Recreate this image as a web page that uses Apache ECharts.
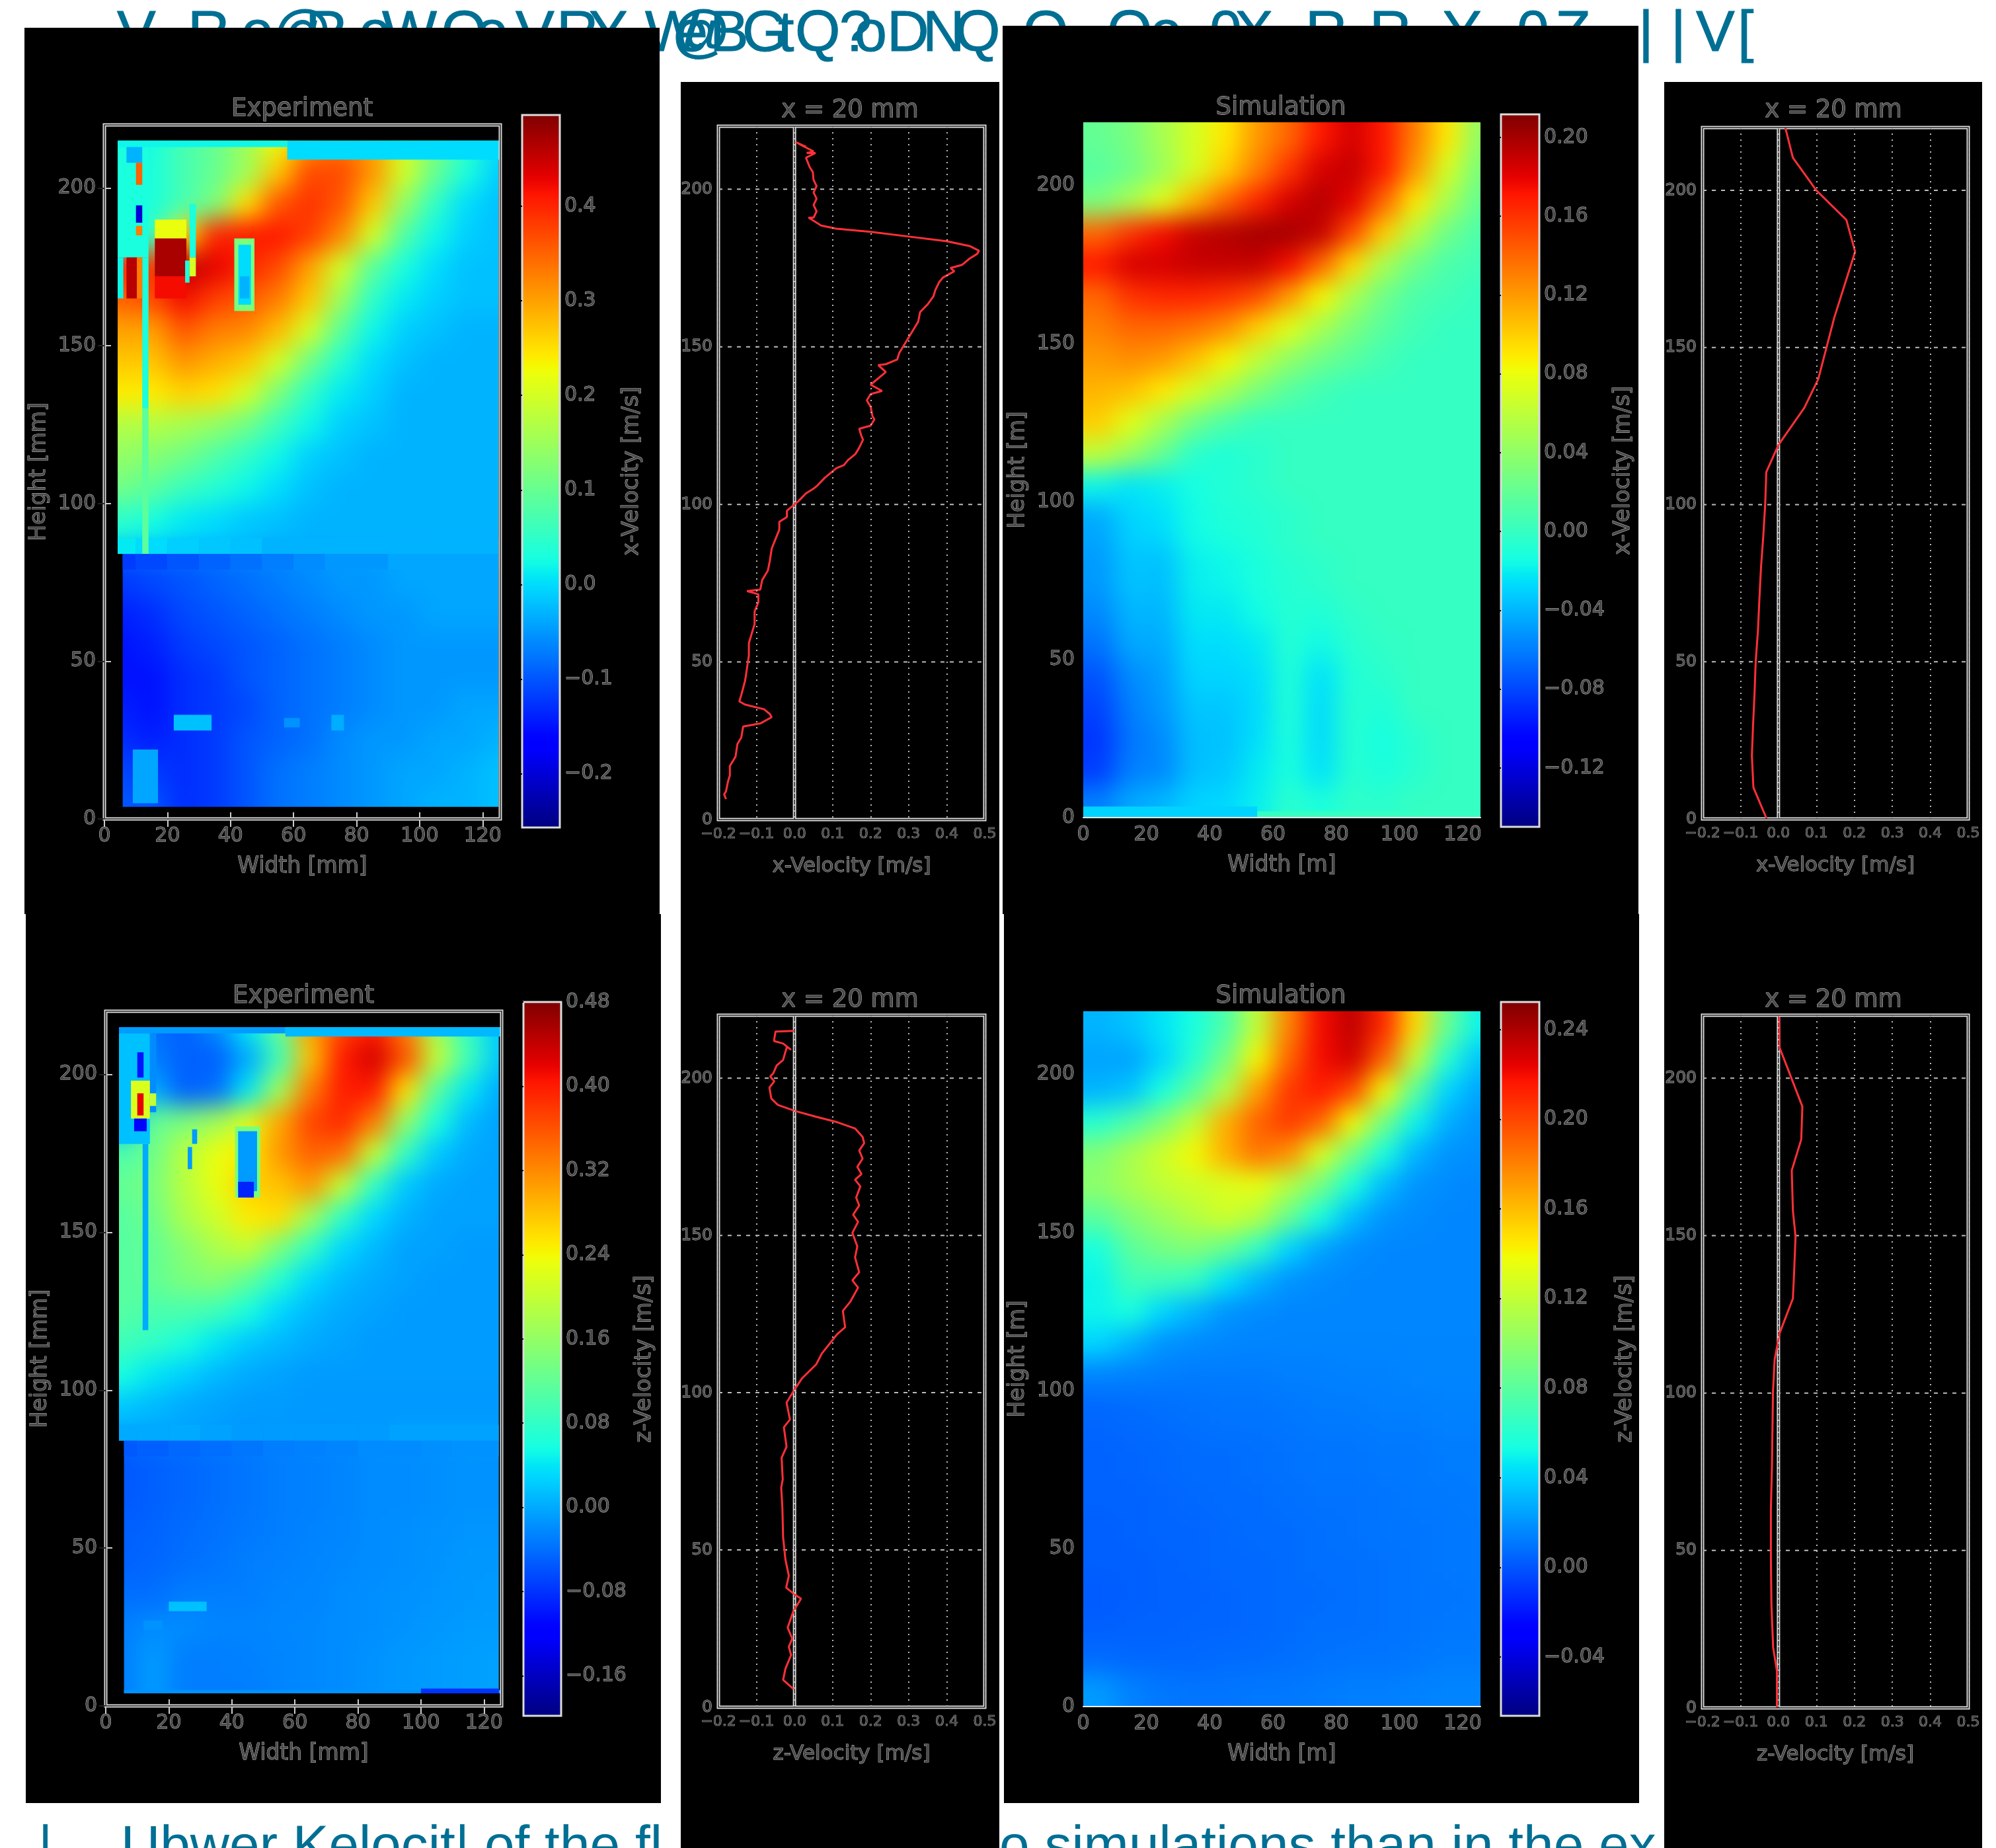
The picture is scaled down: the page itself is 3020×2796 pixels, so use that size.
<!DOCTYPE html>
<html><head><meta charset="utf-8">
<style>html,body{margin:0;padding:0;background:#fff}#c{width:3020px;height:2796px}
canvas[data-zr-dom-id="zr_1"]{filter:blur(18px)}</style>
<script src="https://cdn.jsdelivr.net/npm/echarts@6/dist/echarts.min.js"></script></head>
<body><div id="c"></div><script>
// ---------- cell layout shared by the four fields
const colCentres=[5,15,25,35,45,55,65,75,85,95,105,115,125];
const rowTops=[220,210,200,190,180,170,160,150,140,130,120,110,100,90,84,70,60,50,40,30,20,10];
const rowBottoms=[210,200,190,180,170,160,150,140,130,120,110,100,90,84,70,60,50,40,30,20,10,0];
// ---------- experiment, x-velocity
const expX=[
[0,.03,.07,.10,.15,.22,.30,.33,.30,.20,.12,.05,0],
[.02,.03,.07,.10,.15,.27,.37,.37,.31,.20,.10,.03,-.01],
[.03,.03,.07,.12,.25,.36,.39,.36,.27,.14,.05,0,-.02],
[.03,.05,.25,.40,.41,.41,.38,.32,.20,.08,.02,-.01,-.02],
[.40,.38,.46,.43,.40,.37,.30,.20,.09,.03,0,-.02,-.02],
[.35,.37,.42,.38,.36,.33,.27,.15,.05,.01,-.01,-.02,-.02],
[.30,.30,.36,.33,.32,.28,.20,.09,.02,-.01,-.02,-.03,-.03],
[.27,.27,.31,.29,.27,.20,.11,.04,0,-.02,-.03,-.03,-.03],
[.24,.24,.26,.25,.20,.12,.05,.01,-.01,-.03,-.03,-.03,-.03],
[.17,.17,.16,.14,.11,.06,.02,-.01,-.02,-.03,-.03,-.03,-.03],
[.14,.13,.11,.08,.05,.02,-.01,-.02,-.03,-.03,-.03,-.03,-.03],
[.11,.09,.06,.04,.02,0,-.02,-.03,-.03,-.03,-.03,-.03,-.03],
[.05,.03,.01,0,-.015,-.02,-.03,-.03,-.03,-.03,-.03,-.03,-.03],
[.01,0,-.01,-.015,-.02,-.03,-.03,-.03,-.03,-.03,-.03,-.03,-.03],
[-.12,-.11,-.10,-.09,-.08,-.07,-.06,-.05,-.05,-.04,-.04,-.04,-.04],
[-.14,-.13,-.11,-.10,-.09,-.08,-.07,-.06,-.05,-.05,-.04,-.04,-.04],
[-.15,-.14,-.12,-.11,-.10,-.09,-.08,-.07,-.06,-.05,-.05,-.05,-.05],
[-.15,-.15,-.13,-.12,-.10,-.09,-.08,-.07,-.06,-.05,-.05,-.05,-.05],
[-.14,-.15,-.13,-.12,-.11,-.09,-.08,-.07,-.06,-.05,-.05,-.04,-.04],
[-.13,-.14,-.13,-.12,-.10,-.09,-.08,-.06,-.05,-.05,-.04,-.04,-.03],
[-.11,-.12,-.13,-.12,-.10,-.08,-.07,-.06,-.05,-.04,-.04,-.03,-.02],
[-.10,-.10,-.13,-.12,-.10,-.08,-.07,-.06,-.05,-.04,-.03,-.03,-.02]];
// local features of that field: x0,x1,y0,y1,value
const expXFeatures=[
[4.2,58,213,215,.02],[58,125.6,209,215,0],
[4.2,14,178,213,.03],[7,12,208,213,-.03],[10,12,201,208,.35],[10,12,189,194.5,-.2],[10,12,185,188,.33],
[12,14,130,178,.03],[12,14,84,130,.09],
[4.2,6,165,178,.02],[7,10.3,165,178,.46],[10.3,12,165,178,.33],
[16,26,184,190,.22],[16,26,172,184,.47],[16,26,165,172,.42],
[27,29,178,195,.03],[25.6,27,170,177,.03],[27,29,172,178,.2],
[41.2,47.6,161,184,.12],[42.5,46.5,163,182,0],[43,46,165,172,-.03],
[22,34,28,33,-.02],[57,62,29,32,-.055],[72,76,28,33,-.035],[9,17,5,22,-.04]];
// ---------- simulation, x-velocity
const simX=[
[.02,.03,.05,.07,.09,.12,.14,.17,.185,.17,.13,.09,.04],
[.015,.025,.045,.07,.10,.13,.16,.185,.19,.17,.12,.07,.03],
[.03,.05,.075,.11,.14,.165,.185,.195,.18,.14,.09,.05,.02],
[.14,.16,.175,.19,.195,.20,.20,.19,.15,.10,.055,.025,.01],
[.17,.185,.185,.19,.19,.19,.175,.14,.095,.05,.025,.01,.005],
[.14,.16,.165,.165,.16,.15,.12,.085,.05,.025,.01,.005,0],
[.13,.14,.14,.135,.125,.10,.075,.05,.03,.015,.005,0,0],
[.12,.125,.12,.105,.085,.06,.04,.025,.015,.005,0,0,0],
[.11,.105,.09,.07,.05,.03,.015,.005,0,0,0,0,0],
[.10,.075,.05,.025,.01,0,0,0,0,0,0,0,0],
[.06,.042,.02,-.005,-.01,-.005,0,0,0,0,0,0,0],
[-.018,-.024,-.02,-.014,-.008,-.005,0,0,0,0,0,0,0],
[-.044,-.029,-.025,-.015,-.01,-.008,-.005,0,0,0,0,0,0],
[-.047,-.032,-.03,-.016,-.013,-.009,-.003,0,0,0,0,0,0],
[-.05,-.035,-.037,-.02,-.017,-.012,-.007,-.004,0,0,0,0,0],
[-.056,-.04,-.04,-.022,-.022,-.015,-.008,-.009,-.003,0,0,0,0],
[-.064,-.045,-.044,-.026,-.026,-.022,-.008,-.016,-.006,-.002,0,0,0],
[-.075,-.055,-.048,-.029,-.029,-.026,-.009,-.025,-.009,-.005,0,0,0],
[-.081,-.06,-.05,-.034,-.034,-.027,-.009,-.027,-.007,-.01,0,0,0],
[-.086,-.063,-.055,-.037,-.036,-.026,-.011,-.027,-.007,-.014,-.006,0,0],
[-.083,-.06,-.056,-.037,-.034,-.022,-.012,-.025,-.007,-.012,-.006,0,0],
[-.06,-.045,-.04,-.03,-.028,-.02,-.005,-.012,-.003,-.005,0,0,0]];
const simXFeatures=[[0,55,0,3.5,-.03],[55,125.6,0,2,0]];
// ---------- experiment, z-velocity
const expZ=[
[-.03,-.04,-.05,-.02,.04,.12,.30,.37,.40,.33,.17,.08,.02],
[0,-.03,-.05,-.05,0,.09,.28,.40,.43,.36,.20,.09,.02],
[.03,0,-.05,-.04,.04,.17,.33,.40,.40,.26,.11,.04,0],
[0,.12,.14,.17,.22,.30,.37,.39,.33,.16,.06,.01,-.005],
[.10,.13,.19,.23,.25,.31,.35,.34,.20,.08,.02,0,-.005],
[.12,.14,.19,.23,.27,.28,.31,.20,.08,.02,0,-.005,-.005],
[.11,.13,.18,.21,.25,.26,.17,.08,.03,.005,-.005,-.005,-.005],
[.11,.12,.15,.18,.20,.14,.08,.03,.01,-.005,-.005,-.01,-.01],
[.11,.12,.14,.15,.12,.07,.03,.01,0,-.005,-.01,-.01,-.01],
[.11,.10,.10,.09,.06,.03,.01,0,-.005,-.01,-.01,-.01,-.01],
[.09,.08,.06,.04,.02,.01,0,-.005,-.01,-.01,-.01,-.01,-.01],
[.06,.04,.025,.01,0,-.005,-.01,-.01,-.01,-.01,-.01,-.01,-.01],
[.02,.01,0,-.005,-.01,-.01,-.012,-.012,-.012,-.012,-.012,-.012,-.012],
[0,0,0,-.005,-.01,-.01,-.01,-.01,-.01,-.005,-.005,-.005,-.005],
[-.055,-.05,-.045,-.04,-.035,-.03,-.028,-.025,-.02,-.02,-.018,-.015,-.015],
[-.055,-.05,-.045,-.04,-.035,-.03,-.028,-.025,-.02,-.02,-.018,-.015,-.015],
[-.05,-.048,-.042,-.038,-.033,-.03,-.026,-.024,-.02,-.018,-.016,-.014,-.014],
[-.05,-.045,-.04,-.035,-.03,-.028,-.025,-.022,-.02,-.018,-.015,-.012,-.012],
[-.04,-.04,-.03,-.03,-.03,-.025,-.024,-.02,-.018,-.016,-.014,-.012,-.01],
[-.03,-.02,-.02,-.025,-.025,-.023,-.022,-.02,-.018,-.015,-.012,-.01,-.01],
[-.03,-.01,-.03,-.03,-.028,-.025,-.022,-.02,-.015,-.012,-.01,-.008,-.005],
[-.03,-.01,-.03,-.03,-.03,-.025,-.022,-.02,-.015,-.012,-.01,-.008,-.005]];
const expZFeatures=[
[4.2,57,213,215,-.01],[57,125.6,212,215,.01],[5.8,125.6,4,5,-.015],[100,124.7,4,5.5,-.08],
[4.2,14,178,213,.015],[14,16,188,213,-.02],[8,14,186,198,.22],[10,12,187,194,.42],[9,13,182,186,-.12],[10,12,199,207,-.1],
[11.7,13.5,119,178,0],[14,16,190,194,.2],
[26,27.4,170,177,-.01],[27.4,29,178,182.6,-.01],
[41,49,161,183.5,.14],[42,48,163,182,-.01],[42,47,161,166,-.09],
[20,32,30,33,.015],[12,18,24,27,-.015]];
// ---------- simulation, z-velocity
const simZ=[
[.03,.035,.045,.055,.075,.12,.18,.22,.235,.21,.15,.085,.05],
[.025,.025,.04,.06,.09,.14,.19,.22,.23,.19,.12,.06,.035],
[.03,.035,.055,.08,.115,.17,.205,.215,.20,.14,.08,.04,.025],
[.06,.075,.095,.12,.165,.19,.205,.19,.14,.09,.05,.028,.02],
[.095,.11,.125,.14,.165,.185,.175,.13,.09,.055,.03,.02,.018],
[.10,.11,.12,.125,.13,.135,.115,.09,.055,.032,.02,.017,.016],
[.08,.095,.105,.115,.125,.115,.085,.055,.032,.02,.017,.016,.016],
[.055,.08,.09,.095,.085,.065,.04,.025,.018,.016,.016,.016,.016],
[.05,.07,.07,.065,.045,.03,.02,.017,.016,.016,.016,.016,.016],
[.05,.055,.04,.03,.02,.017,.016,.016,.016,.016,.016,.016,.016],
[.04,.03,.02,.017,.016,.015,.015,.015,.015,.015,.015,.015,.015],
[.015,.014,.013,.012,.012,.012,.013,.013,.014,.014,.015,.015,.015],
[.006,.007,.008,.009,.01,.01,.011,.012,.012,.013,.013,.014,.014],
[.005,.006,.007,.008,.009,.009,.01,.011,.011,.012,.012,.013,.013],
[.004,.005,.006,.007,.007,.008,.009,.01,.01,.011,.011,.012,.012],
[.004,.004,.005,.006,.007,.007,.008,.009,.009,.01,.011,.011,.012],
[.003,.004,.005,.005,.006,.007,.007,.008,.009,.01,.01,.011,.011],
[.003,.003,.004,.005,.006,.006,.007,.008,.008,.009,.01,.011,.011],
[.002,.003,.004,.004,.005,.006,.007,.007,.008,.009,.01,.01,.011],
[.003,.004,.004,.005,.005,.006,.007,.008,.008,.009,.01,.011,.011],
[.007,.006,.006,.006,.007,.007,.008,.009,.01,.01,.011,.012,.012],
[.022,.014,.011,.01,.01,.011,.011,.012,.013,.013,.014,.015,.015]];
const simZFeatures=[];
// ---------- profiles at x = 20 mm: [velocity, height]
const profExpX=[[.003,215],[.03,213.5],[.01,214.5],[.05,212],[.032,211.5],[.055,211.5],[.03,210],[.04,207],[.048,205.5],[.05,203],[.058,201],[.05,199],[.058,197],[.05,195],[.058,193],[.05,191],[.037,191],[.05,190],[.07,188.5],[.11,187.5],[.2,186.5],[.3,185],[.4,183.5],[.46,182],[.485,180.5],[.48,179.5],[.46,178],[.44,176],[.41,175],[.42,174],[.39,172],[.38,170.5],[.37,168],[.365,166],[.35,163.5],[.33,161],[.325,158],[.31,155],[.3,153],[.29,151],[.275,148],[.27,146],[.24,144.5],[.22,144.2],[.24,142],[.21,139],[.2,138],[.23,136],[.2,135],[.19,133],[.2,131],[.205,128],[.21,127],[.2,125],[.17,124],[.175,122],[.18,120.5],[.17,118],[.16,116],[.14,114],[.13,112.5],[.11,111.5],[.09,109.5],[.08,108.5],[.06,106],[.05,105],[.03,103.5],[.01,101],[0,100],[-.02,98],[-.02,96],[-.04,94.5],[-.04,92],[-.05,89],[-.06,86],[-.065,82],[-.07,79],[-.085,76],[-.09,73],[-.125,72.5],[-.095,71.5],[-.095,69],[-.105,66],[-.105,62],[-.11,60],[-.12,56],[-.12,52],[-.125,48],[-.13,44],[-.14,39.5],[-.145,37.5],[-.13,36.5],[-.08,35],[-.065,33.5],[-.06,32.5],[-.09,30.5],[-.135,29.5],[-.14,26],[-.15,24],[-.155,20],[-.16,19],[-.17,17],[-.17,14],[-.175,12],[-.18,9],[-.185,8],[-.18,6.5]];
const profSimX=[[.018,220],[.038,210.4],[.1,200],[.179,190.6],[.202,180.5],[.147,159.5],[.105,140],[.068,130.8],[0,119],[-.032,110.4],[-.035,100],[-.04,90],[-.046,80],[-.05,70.6],[-.054,60],[-.06,50],[-.063,40],[-.067,29.6],[-.07,20],[-.066,10],[-.031,0]];
const profExpZ=[[-.002,215],[-.05,214.8],[-.054,211.8],[-.03,211],[-.009,209],[-.02,210],[-.03,205.8],[-.047,204],[-.056,201.5],[-.064,200.5],[-.053,199],[-.066,197],[-.061,193.5],[-.044,191.5],[0,189.6],[.054,187.8],[.112,186],[.159,184],[.179,181.3],[.183,179.3],[.17,177],[.179,174.4],[.165,171.8],[.176,169.5],[.159,167.7],[.173,165.6],[.162,162],[.17,159.5],[.154,156.6],[.167,154.3],[.152,150.8],[.165,146.5],[.159,143],[.17,138.3],[.152,135.7],[.167,133.4],[.147,129],[.127,126],[.133,120.8],[.112,118.6],[.095,116],[.072,112.5],[.057,109],[.02,104.6],[0,101],[-.021,96.8],[-.012,91.5],[-.028,89],[-.021,82.8],[-.034,79.3],[-.031,72.4],[-.035,69.8],[-.032,63.6],[-.03,54],[-.024,47],[-.015,41.8],[-.022,38],[.002,35.7],[.017,34.5],[-.003,30.5],[-.018,25.3],[-.006,21.8],[-.015,19.2],[-.009,16.6],[-.024,12.2],[-.03,8.7],[-.003,5.8]];
const profSimZ=[[.002,219.5],[.003,209.7],[.063,191],[.06,180.5],[.035,170.7],[.038,158],[.045,149.7],[.041,137.7],[.038,130],[.003,119],[-.01,110.7],[-.0145,100],[-.017,77.7],[-.02,62.7],[-.02,47.7],[-.0185,32.7],[-.014,19.2],[-.004,11.7],[-.004,0]];
const zeroLine=[[0,0],[0,220]];
// ---------- ticks
const widthTicks=[0,20,40,60,80,100,120];
const heightTicks=[0,50,100,150,200];
const velTicks=[-.2,-.1,0,.1,.2,.3,.4,.5];
const barTicksExpX=[-.2,-.1,0,.1,.2,.3,.4];
const barTicksSimX=[-.12,-.08,-.04,0,.04,.08,.12,.16,.2];
const barTicksExpZ=[-.16,-.08,0,.08,.16,.24,.32,.4,.48];
const barTicksSimZ=[-.04,0,.04,.08,.12,.16,.2,.24];
// ---------- overlapped page text
const topWords=[['V',177],['R',284],['e',365],['@',413],['R',462],['e',543],['W',578],['O',668],['e',720],['V',780],['R',842],['Y',891],['W',976],['@',1016],['e',1022],['B',1074],['G',1123],['t',1177],['Q',1203],['?',1270],['o',1293],['D',1342],['N',1396],['Q',1445],['O',1548],['Q',1675],['e',1740],['0',1830],['X',1868],['R',1975],['R',2072],['Y',2183],['0',2295],['Z',2353],['|',2479],['|',2528],['V',2566],['[',2629]];
const bottomWords=[['|',58],['Ubwer Kelocit| of the fl',183],['o simulations than in the ex',1512]];

// ---------- jet colormap
const jetR=[[0,0],[.35,0],[.66,1],[.89,1],[1,.5]],jetG=[[0,0],[.125,0],[.375,1],[.64,1],[.91,0],[1,0]],jetB=[[0,.5],[.11,1],[.34,1],[.65,0],[1,0]];
function seg(s,t){for(let i=1;i<s.length;i++)if(t<=s[i][0])return s[i-1][1]+(s[i][1]-s[i-1][1])*(t-s[i-1][0])/(s[i][0]-s[i-1][0]);return s[s.length-1][1];}
const jet=[];for(let i=0;i<=128;i++){const t=i/128;jet.push('rgb('+[jetR,jetG,jetB].map(s=>Math.round(seg(s,t)*255)).join(',')+')');}

const F='"DejaVu Sans"',TXT={color:'#4a4a4a',textBorderColor:'#cfcfcf',textBorderWidth:.9,fontFamily:F};
const fmt=(v,d)=>(v<0?'\u2212':'')+Math.abs(v).toFixed(d);
const grids=[],xAxes=[],yAxes=[],series=[],vms=[],gfx=[];
const MM=125.6,BORDER='#dcdcdc';

function rect(x,y,w,h,fill,z,zl){gfx.push({type:'rect',shape:{x,y,width:w,height:h},style:{fill},z,zlevel:zl||0,silent:true});}
function frame(x,y,w,h){gfx.push({type:'rect',shape:{x,y,width:w,height:h},style:{fill:'none',stroke:'#222',lineWidth:1.5},z:50,zlevel:4,silent:true});}
function label(t,x,y,size){gfx.push({type:'text',x,y,style:{text:t,font:size+'px '+F,fill:'#4a4a4a',stroke:'#cfcfcf',lineWidth:.9,align:'center',verticalAlign:'middle'},z:50,zlevel:4,silent:true});}

topWords.forEach(([t,x])=>gfx.push({type:'text',x,y:53,style:{text:t,font:'88px "Liberation Sans"',fill:'#006f94',stroke:'#006f94',lineWidth:1,align:'left',verticalAlign:'middle'},z:1,silent:true}));
bottomWords.forEach(([t,x])=>gfx.push({type:'text',x,y:2796,style:{text:t,font:'82px "Liberation Sans"',fill:'#006f94',align:'left',verticalAlign:'middle'},z:1,silent:true}));
[[37,42,961,1341],[39,1383,961,1345],[1030,124,482,2672],[1517,39,962,1344],[1519,1383,961,1345],[2518,124,481,2672]].forEach(p=>rect(p[0],p[1],p[2],p[3],'#000',5));

function renderCell(params,api){
  const a=api.value(0),b=api.value(1),c=api.value(2),d=api.value(3);
  const p0=api.coord([a,d]),p1=api.coord([b,c]);
  let x0=p0[0],y0=p0[1],x1=p1[0],y1=p1[1];
  if(a<=0)x0-=42; if(b>=130)x1+=30; if(c<=0)y1+=42; if(d>=220)y0-=42;
  return {type:'rect',shape:{x:x0,y:y0,width:x1-x0+1,height:y1-y0+1},style:{fill:api.visual('color')}};
}
function renderFeature(params,api){
  const p0=api.coord([api.value(0),api.value(3)]),p1=api.coord([api.value(1),api.value(2)]);
  return {type:'rect',shape:{x:p0[0],y:p0[1],width:p1[0]-p0[0],height:p1[1]-p0[1]},style:{fill:api.visual('color')}};
}
function axisBase(o){return Object.assign({type:'value',zlevel:3,z:10,splitLine:{show:false},axisLine:{show:false},axisTick:{show:false},axisLabel:{show:false}},o);}

function heatPanel(cfg){
  const g=grids.length;
  grids.push({left:cfg.gx,top:cfg.gy,width:cfg.gw,height:cfg.gh,show:cfg.exp,borderColor:BORDER,borderWidth:5,backgroundColor:'transparent',zlevel:3,z:1});
  const xi=xAxes.length,yi=yAxes.length,tc=cfg.exp?'#ccc':'transparent';
  xAxes.push(axisBase({gridIndex:g,min:0,max:MM,position:'bottom',name:cfg.xName,nameLocation:'middle',nameGap:56,nameTextStyle:{...TXT,fontSize:33},
    axisTick:{show:true,inside:true,length:10,customValues:widthTicks,lineStyle:{color:tc,width:2}},
    axisLabel:{show:true,margin:11,customValues:widthTicks,fontSize:30,...TXT,formatter:v=>String(v)}}));
  yAxes.push(axisBase({gridIndex:g,min:0,max:220,position:'left',name:cfg.yName,nameLocation:'middle',nameRotate:90,nameGap:82,nameTextStyle:{...TXT,fontSize:33},
    axisTick:{show:true,inside:true,length:10,customValues:heightTicks,lineStyle:{color:tc,width:2}},
    axisLabel:{show:true,margin:13,customValues:heightTicks,fontSize:30,...TXT,formatter:v=>String(v)}}));
  xAxes.push(axisBase({gridIndex:g,min:0,max:MM,position:'top',
    axisLine:{show:!cfg.exp,lineStyle:{color:'#eee',width:2}},
    axisTick:{show:true,inside:true,length:12,customValues:widthTicks,lineStyle:{color:tc,width:2}}}));
  yAxes.push(axisBase({gridIndex:g,min:0,max:220,position:'right',
    axisTick:{show:true,inside:true,length:10,customValues:heightTicks,lineStyle:{color:cfg.exp?'#222':'transparent',width:2}}}));
  const cells=[];
  cfg.field.forEach((row,r)=>row.forEach((v,c)=>cells.push([colCentres[c]-5,colCentres[c]+5,rowBottoms[r],rowTops[r],v])));
  const [ea,eb,ec,ed]=cfg.extent;
  // the measurement seam at 84 mm stays sharp: the two rows that meet there are also drawn unsmoothed
  const seam=[];
  if(cfg.exp) colCentres.forEach((cc,c)=>{
    seam.push([Math.max(cc-5,ea),Math.min(cc+5,eb),84,89,cfg.field[13][c]]);
    seam.push([Math.max(cc-5,5.8),Math.min(cc+5,eb),79,84,cfg.field[14][c]]);
  });
  const si=series.length;
  series.push({type:'custom',name:cfg.name,xAxisIndex:xi,yAxisIndex:yi,zlevel:1,z:2,clip:false,renderItem:renderCell,data:cells,encode:{x:[0,1],y:[2,3]},silent:true,animation:false});
  series.push({type:'custom',name:cfg.name+' features',xAxisIndex:xi,yAxisIndex:yi,zlevel:2,z:20,clip:true,renderItem:renderFeature,data:seam.concat(cfg.features),encode:{x:[0,1],y:[2,3]},silent:true,animation:false});
  const b=cfg.bar;
  vms.push({type:'continuous',seriesIndex:[si,si+1],dimension:4,min:b.min,max:b.max,left:b.x,top:b.y,itemWidth:b.w,itemHeight:b.h,padding:0,calculable:false,realtime:false,hoverLink:false,showLabel:false,text:null,inRange:{color:jet},zlevel:3,z:5,orient:'vertical'});
  const gb=grids.length;
  grids.push({left:b.x,top:b.y,width:b.w,height:b.h,show:true,borderColor:BORDER,borderWidth:3,backgroundColor:'transparent',zlevel:3,z:8});
  xAxes.push(axisBase({gridIndex:gb,min:0,max:1,show:false}));
  yAxes.push(axisBase({gridIndex:gb,min:b.min,max:b.max,position:'right',name:b.name,nameLocation:'middle',nameRotate:90,nameGap:b.gap,nameTextStyle:{...TXT,fontSize:33},
    axisTick:{show:true,inside:true,length:12,customValues:b.ticks,lineStyle:{color:'#000',width:2}},
    axisLabel:{show:true,margin:7,customValues:b.ticks,fontSize:30,...TXT,formatter:v=>fmt(v,b.dec)}}));
  label(cfg.title,cfg.tx,cfg.ty,37);
  const mx=m=>cfg.gx+m*cfg.gw/MM,my=m=>cfg.gy+cfg.gh-m*cfg.gh/220,M=100;
  rect(cfg.gx-M,cfg.gy-M,mx(ea)-cfg.gx+M,cfg.gh+2*M,'#000',1,2);
  rect(mx(eb),cfg.gy-M,cfg.gx+cfg.gw+M-mx(eb),cfg.gh+2*M,'#000',1,2);
  rect(cfg.gx-M,cfg.gy-M,cfg.gw+2*M,my(ed)-cfg.gy+M,'#000',1,2);
  rect(cfg.gx-M,my(ec),cfg.gw+2*M,cfg.gy+cfg.gh+M-my(ec),'#000',1,2);
  if(cfg.exp){rect(mx(ea),my(84),mx(5.8)-mx(ea),my(ec)-my(84),'#000',1,2);frame(cfg.gx,cfg.gy,cfg.gw,cfg.gh);}
}
function profilePanel(cfg){
  const g=grids.length;
  grids.push({left:cfg.gx,top:cfg.gy,width:cfg.gw,height:cfg.gh,show:true,borderColor:BORDER,borderWidth:5,backgroundColor:'transparent',zlevel:3,z:1});
  const xi=xAxes.length,yi=yAxes.length;
  xAxes.push(axisBase({gridIndex:g,min:-.2,max:.5,name:cfg.xName,nameLocation:'middle',nameGap:55,nameTextStyle:{...TXT,fontSize:31},
    splitLine:{show:true,customValues:velTicks,lineStyle:{color:'#bbb',width:2,type:[2,7]}},
    axisLabel:{show:true,margin:11,fontSize:22,...TXT,textBorderWidth:.7,customValues:velTicks,hideOverlap:false,showMinLabel:true,showMaxLabel:true,formatter:v=>fmt(v,1)}}));
  yAxes.push(axisBase({gridIndex:g,min:0,max:220,position:'left',
    axisLabel:{show:true,margin:9,customValues:heightTicks,fontSize:25,...TXT,formatter:v=>String(v)}}));
  series.push({type:'line',name:'zero',xAxisIndex:xi,yAxisIndex:yi,zlevel:3,z:3,data:zeroLine,showSymbol:false,lineStyle:{color:BORDER,width:5},silent:true,animation:false});
  series.push({type:'line',name:'zero core',xAxisIndex:xi,yAxisIndex:yi,zlevel:3,z:4,data:zeroLine,showSymbol:false,lineStyle:{color:'#222',width:1.5},silent:true,animation:false});
  heightTicks.slice(1).forEach(h=>series.push({type:'line',name:'grid '+h,xAxisIndex:xi,yAxisIndex:yi,zlevel:3,z:2,data:[[-.2,h],[.5,h]],showSymbol:false,lineStyle:{color:'#bbb',width:2,type:[6,8]},silent:true,animation:false}));
  series.push({type:'line',name:cfg.name,xAxisIndex:xi,yAxisIndex:yi,zlevel:3,z:6,data:cfg.data,showSymbol:false,lineStyle:{color:'#ff3038',width:3},silent:true,animation:false});
  frame(cfg.gx,cfg.gy,cfg.gw,cfg.gh);
  label('x = 20 mm',cfg.tx,cfg.ty,37);
}

heatPanel({name:'exp x',exp:true,gx:158,gy:189,gw:599,gh:1050,xName:'Width [mm]',yName:'Height [mm]',field:expX,features:expXFeatures,extent:[4.2,125,3.8,215],title:'Experiment',tx:457,ty:165,
  bar:{min:-.257,max:.4965,x:790,y:174,w:57,h:1078,ticks:barTicksExpX,dec:1,name:'x-Velocity [m/s]',gap:93}});
profilePanel({name:'exp x profile',gx:1087,gy:191,gw:403,gh:1049,xName:'x-Velocity [m/s]',data:profExpX,tx:1286,ty:167});
heatPanel({name:'sim x',exp:false,gx:1639,gy:185,gw:601,gh:1052,xName:'Width [m]',yName:'Height [m]',field:simX,features:simXFeatures,extent:[0,MM,0,220],title:'Simulation',tx:1938,ty:163,
  bar:{min:-.1499,max:.2117,x:2271,y:173,w:58,h:1078,ticks:barTicksSimX,dec:2,name:'x-Velocity [m/s]',gap:111}});
profilePanel({name:'sim x profile',gx:2576,gy:193,gw:402,gh:1046,xName:'x-Velocity [m/s]',data:profSimX,tx:2774,ty:167});
heatPanel({name:'exp z',exp:true,gx:160,gy:1530,gw:599,gh:1051,xName:'Width [mm]',yName:'Height [mm]',field:expZ,features:expZFeatures,extent:[4.2,124.7,4,215],title:'Experiment',tx:459,ty:1507,
  bar:{min:-.198,max:.48,x:792,y:1516,w:57,h:1080,ticks:barTicksExpZ,dec:2,name:'z-Velocity [m/s]',gap:110}});
profilePanel({name:'exp z profile',gx:1087,gy:1536,gw:403,gh:1047,xName:'z-Velocity [m/s]',data:profExpZ,tx:1286,ty:1513});
heatPanel({name:'sim z',exp:false,gx:1639,gy:1530,gw:601,gh:1052,xName:'Width [m]',yName:'Height [m]',field:simZ,features:simZFeatures,extent:[0,MM,0,220],title:'Simulation',tx:1938,ty:1507,
  bar:{min:-.0663,max:.2524,x:2271,y:1516,w:58,h:1080,ticks:barTicksSimZ,dec:2,name:'z-Velocity [m/s]',gap:114}});
profilePanel({name:'sim z profile',gx:2576,gy:1536,gw:402,gh:1048,xName:'z-Velocity [m/s]',data:profSimZ,tx:2774,ty:1513});

const chart=echarts.init(document.getElementById('c'),null,{renderer:'canvas',width:3020,height:2796});
chart.setOption({backgroundColor:'#fff',animation:false,tooltip:{show:false},grid:grids,xAxis:xAxes,yAxis:yAxes,visualMap:vms,series,graphic:{elements:gfx}});
</script></body></html>
